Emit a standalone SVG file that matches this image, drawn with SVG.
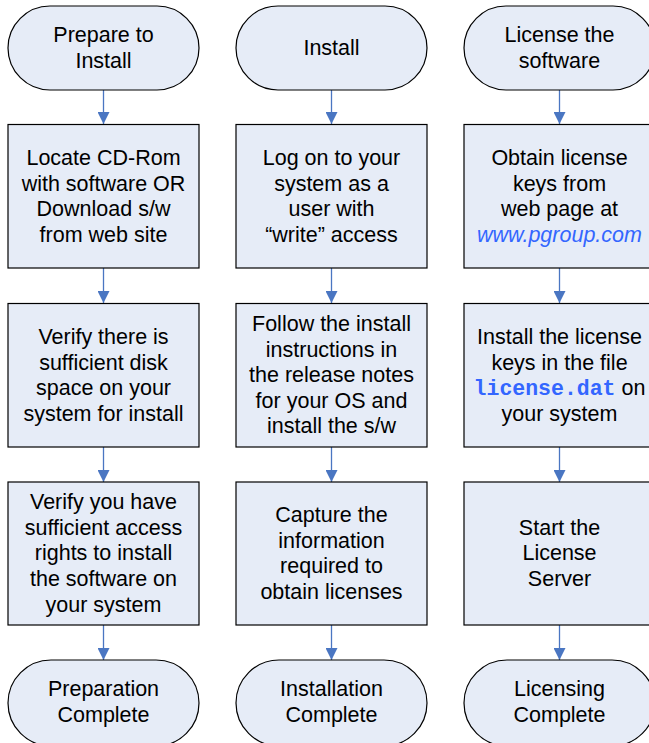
<svg xmlns="http://www.w3.org/2000/svg" width="649" height="743" viewBox="0 0 649 743">
<style>
.s{fill:#E6ECF7;stroke:#000;stroke-width:1.2}
.t{font-family:"Liberation Sans",Arial,sans-serif;font-size:21.5px;fill:#000;text-anchor:middle}
.c{stroke:#4A76C2;stroke-width:1.3;fill:none}
.lk{fill:#3366FF}
.mono{font-family:"Liberation Mono","Courier New",monospace;font-weight:bold}
</style>
<defs>
<marker id="a" viewBox="0 0 10 10" refX="10" refY="5" markerWidth="12" markerHeight="12" markerUnits="userSpaceOnUse" orient="auto">
<path d="M0,0L10,5L0,10z" fill="#4A76C2"/>
</marker>
</defs>
<g id="connectors">
<line class="c" x1="103.5" y1="90" x2="103.5" y2="124" marker-end="url(#a)"/>
<line class="c" x1="103.5" y1="268" x2="103.5" y2="303" marker-end="url(#a)"/>
<line class="c" x1="103.5" y1="447" x2="103.5" y2="482" marker-end="url(#a)"/>
<line class="c" x1="103.5" y1="625" x2="103.5" y2="660" marker-end="url(#a)"/>
<line class="c" x1="331.5" y1="90" x2="331.5" y2="124" marker-end="url(#a)"/>
<line class="c" x1="331.5" y1="268" x2="331.5" y2="303" marker-end="url(#a)"/>
<line class="c" x1="331.5" y1="447" x2="331.5" y2="482" marker-end="url(#a)"/>
<line class="c" x1="331.5" y1="625" x2="331.5" y2="660" marker-end="url(#a)"/>
<line class="c" x1="559.5" y1="90" x2="559.5" y2="124" marker-end="url(#a)"/>
<line class="c" x1="559.5" y1="268" x2="559.5" y2="303" marker-end="url(#a)"/>
<line class="c" x1="559.5" y1="447" x2="559.5" y2="482" marker-end="url(#a)"/>
<line class="c" x1="559.5" y1="625" x2="559.5" y2="660" marker-end="url(#a)"/>
</g>
<g id="prep-start"><rect class="s" x="8" y="6" width="191" height="84" rx="42"/><text class="t" x="103.5" y="42">Prepare to</text><text class="t" x="103.5" y="68">Install</text></g>
<g id="locate"><rect class="s" x="8" y="124.5" width="191" height="143.5"/><text class="t" x="103.5" y="165">Locate CD-Rom</text><text class="t" x="103.5" y="191">with software OR</text><text class="t" x="103.5" y="216">Download s/w</text><text class="t" x="103.5" y="242">from web site</text></g>
<g id="verify-disk"><rect class="s" x="8" y="303.5" width="191" height="143.5"/><text class="t" x="103.5" y="344">Verify there is</text><text class="t" x="103.5" y="370">sufficient disk</text><text class="t" x="103.5" y="395">space on your</text><text class="t" x="103.5" y="421">system for install</text></g>
<g id="verify-access"><rect class="s" x="8" y="482" width="191" height="143"/><text class="t" x="103.5" y="509">Verify you have</text><text class="t" x="103.5" y="535">sufficient access</text><text class="t" x="103.5" y="560">rights to install</text><text class="t" x="103.5" y="586">the software on</text><text class="t" x="103.5" y="612">your system</text></g>
<g id="prep-end"><rect class="s" x="8" y="660" width="191" height="86" rx="43"/><text class="t" x="103.5" y="696">Preparation</text><text class="t" x="103.5" y="722">Complete</text></g>

<g id="install-start"><rect class="s" x="236" y="6" width="191" height="84" rx="42"/><text class="t" x="331.5" y="55">Install</text></g>
<g id="logon"><rect class="s" x="236" y="124.5" width="191" height="143.5"/><text class="t" x="331.5" y="165">Log on to your</text><text class="t" x="331.5" y="191">system as a</text><text class="t" x="331.5" y="216">user with</text><text class="t" x="331.5" y="242">“write” access</text></g>
<g id="follow"><rect class="s" x="236" y="303.5" width="191" height="143.5"/><text class="t" x="331.5" y="331">Follow the install</text><text class="t" x="331.5" y="357">instructions in</text><text class="t" x="331.5" y="382">the release notes</text><text class="t" x="331.5" y="408">for your OS and</text><text class="t" x="331.5" y="433">install the s/w</text></g>
<g id="capture"><rect class="s" x="236" y="482" width="191" height="143"/><text class="t" x="331.5" y="522">Capture the</text><text class="t" x="331.5" y="548">information</text><text class="t" x="331.5" y="573">required to</text><text class="t" x="331.5" y="599">obtain licenses</text></g>
<g id="install-end"><rect class="s" x="236" y="660" width="191" height="86" rx="43"/><text class="t" x="331.5" y="696">Installation</text><text class="t" x="331.5" y="722">Complete</text></g>

<g id="license-start"><rect class="s" x="464" y="6" width="191" height="84" rx="42"/><text class="t" x="559.5" y="42">License the</text><text class="t" x="559.5" y="68">software</text></g>
<g id="obtain"><rect class="s" x="464" y="124.5" width="191" height="143.5"/><text class="t" x="559.5" y="165">Obtain license</text><text class="t" x="559.5" y="191">keys from</text><text class="t" x="559.5" y="216">web page at</text><text class="t lk" x="559.5" y="242" font-style="italic">www.pgroup.com</text></g>
<g id="install-keys"><rect class="s" x="464" y="303.5" width="191" height="143.5"/><text class="t" x="559.5" y="344">Install the license</text><text class="t" x="559.5" y="370">keys in the file</text><text class="t" x="559.5" y="395"><tspan class="mono lk">license.dat</tspan> on</text><text class="t" x="559.5" y="421">your system</text></g>
<g id="start-server"><rect class="s" x="464" y="482" width="191" height="143"/><text class="t" x="559.5" y="535">Start the</text><text class="t" x="559.5" y="560">License</text><text class="t" x="559.5" y="586">Server</text></g>
<g id="license-end"><rect class="s" x="464" y="660" width="191" height="86" rx="43"/><text class="t" x="559.5" y="696">Licensing</text><text class="t" x="559.5" y="722">Complete</text></g>
</svg>
